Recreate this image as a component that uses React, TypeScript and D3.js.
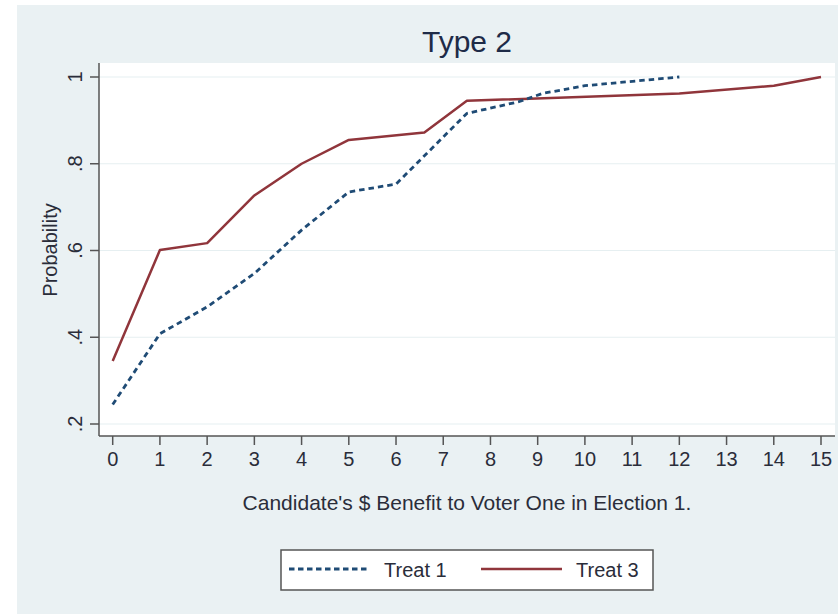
import { useEffect, useRef } from "react";
import * as d3 from "d3";

// Treat 1 (dashed navy)
const treat1X = [0, 1, 2, 3, 4, 5, 6, 7.5, 8.6, 9.1, 10, 12];
const treat1Y = [0.245, 0.408, 0.47, 0.547, 0.647, 0.735, 0.753, 0.916, 0.943, 0.962, 0.98, 1.0];

// Treat 3 (solid maroon)
const treat3X = [0, 1, 2, 3, 4, 5, 6.6, 7.5, 12, 14, 15];
const treat3Y = [0.345, 0.601, 0.617, 0.727, 0.8, 0.855, 0.872, 0.945, 0.962, 0.98, 1.0];

const xTicks = d3.range(0, 16);
const yTicks = [0.2, 0.4, 0.6, 0.8, 1];
const yTickLabels = [".2", ".4", ".6", ".8", "1"];

const seriesNames = ["Treat 1", "Treat 3"];

const W = 838;
const H = 614;

export default function App() {
  const svgRef = useRef<SVGSVGElement>(null);

  useEffect(() => {
    if (!svgRef.current) return;
    const svg = d3.select(svgRef.current);
    svg.selectAll("*").remove();

    const font = "'Liberation Sans', Arial, sans-serif";
    const textColor = "#2a2d3a";
    const axisColor = "#555";
    const bg = "#eaf1f3";

    const plot = { left: 99, right: 835, top: 63, bottom: 436 };

    const x = d3.scaleLinear().domain([0, 15]).range([112.7, 821]);
    const y = d3.scaleLinear().domain([0.2, 1]).range([424, 77]);

    // outer background
    svg.append("rect")
      .attr("x", 17).attr("y", 5)
      .attr("width", W - 17).attr("height", H - 5)
      .attr("fill", bg);

    // plot region
    svg.append("rect")
      .attr("x", plot.left).attr("y", plot.top)
      .attr("width", plot.right - plot.left).attr("height", plot.bottom - plot.top)
      .attr("fill", "#fff");

    // gridlines
    svg.append("g")
      .selectAll("line")
      .data(yTicks)
      .join("line")
      .attr("x1", plot.left).attr("x2", plot.right)
      .attr("y1", (d) => y(d)).attr("y2", (d) => y(d))
      .attr("stroke", "#e6eff1")
      .attr("stroke-width", 1.2);

    // title
    svg.append("text")
      .attr("x", 467).attr("y", 52)
      .attr("text-anchor", "middle")
      .style("font-family", font)
      .style("font-size", "30px")
      .style("fill", "#1e2b48")
      .text("Type 2");

    // Y axis
    const yAxis = svg.append("g").attr("transform", `translate(${plot.left},0)`);
    yAxis.append("line")
      .attr("x1", 0).attr("x2", 0)
      .attr("y1", plot.top).attr("y2", plot.bottom)
      .attr("stroke", axisColor).attr("stroke-width", 1.5);
    yAxis.selectAll("line.tick")
      .data(yTicks)
      .join("line")
      .attr("class", "tick")
      .attr("x1", -9).attr("x2", 0)
      .attr("y1", (d) => y(d)).attr("y2", (d) => y(d))
      .attr("stroke", axisColor).attr("stroke-width", 1.5);
    yAxis.selectAll("text")
      .data(yTicks)
      .join("text")
      .attr("transform", (d) => `translate(-17,${y(d)}) rotate(-90)`)
      .attr("text-anchor", "middle")
      .style("font-family", font)
      .style("font-size", "20px")
      .style("fill", textColor)
      .text((d, i) => yTickLabels[i]);

    svg.append("text")
      .attr("transform", `translate(57,250) rotate(-90)`)
      .attr("text-anchor", "middle")
      .style("font-family", font)
      .style("font-size", "20px")
      .style("fill", textColor)
      .text("Probability");

    // X axis
    const xAxis = svg.append("g").attr("transform", `translate(0,${plot.bottom})`);
    xAxis.append("line")
      .attr("x1", plot.left).attr("x2", plot.right)
      .attr("y1", 0).attr("y2", 0)
      .attr("stroke", axisColor).attr("stroke-width", 1.5);
    xAxis.selectAll("line.tick")
      .data(xTicks)
      .join("line")
      .attr("class", "tick")
      .attr("x1", (d) => x(d)).attr("x2", (d) => x(d))
      .attr("y1", 0).attr("y2", 9)
      .attr("stroke", axisColor).attr("stroke-width", 1.5);
    xAxis.selectAll("text")
      .data(xTicks)
      .join("text")
      .attr("x", (d) => x(d))
      .attr("y", 30)
      .attr("text-anchor", "middle")
      .style("font-family", font)
      .style("font-size", "20px")
      .style("fill", textColor)
      .text((d) => String(d));

    svg.append("text")
      .attr("x", 467).attr("y", 510)
      .attr("text-anchor", "middle")
      .style("font-family", font)
      .style("font-size", "21px")
      .style("fill", textColor)
      .text("Candidate's $ Benefit to Voter One in Election 1.");

    // lines
    const line = d3.line<[number, number]>()
      .x((d) => x(d[0]))
      .y((d) => y(d[1]));

    const t1 = treat1X.map((v, i) => [v, treat1Y[i]] as [number, number]);
    const t3 = treat3X.map((v, i) => [v, treat3Y[i]] as [number, number]);

    svg.append("path")
      .datum(t3)
      .attr("d", line)
      .attr("fill", "none")
      .attr("stroke", "#90353b")
      .attr("stroke-width", 2.5)
      .attr("stroke-linejoin", "round");

    svg.append("path")
      .datum(t1)
      .attr("d", line)
      .attr("fill", "none")
      .attr("stroke", "#1f4b75")
      .attr("stroke-width", 2.8)
      .attr("stroke-dasharray", "5.5,4");

    // legend
    const lg = svg.append("g");
    lg.append("rect")
      .attr("x", 281).attr("y", 550)
      .attr("width", 372).attr("height", 40)
      .attr("fill", "#fff")
      .attr("stroke", "#555")
      .attr("stroke-width", 1.5);
    lg.append("line")
      .attr("x1", 289).attr("x2", 370)
      .attr("y1", 569).attr("y2", 569)
      .attr("stroke", "#1f4b75")
      .attr("stroke-width", 2.8)
      .attr("stroke-dasharray", "5.5,3.5");
    lg.append("line")
      .attr("x1", 481).attr("x2", 562)
      .attr("y1", 569).attr("y2", 569)
      .attr("stroke", "#90353b")
      .attr("stroke-width", 2.5);
    lg.selectAll("text")
      .data(seriesNames)
      .join("text")
      .attr("x", (d, i) => (i === 0 ? 384 : 576))
      .attr("y", 577)
      .style("font-family", font)
      .style("font-size", "20px")
      .style("fill", textColor)
      .text((d) => d);
  }, []);

  return (
    <svg
      ref={svgRef}
      width={W}
      height={H}
      style={{ position: "absolute", left: 0, top: 0, display: "block" }}
    />
  );
}
